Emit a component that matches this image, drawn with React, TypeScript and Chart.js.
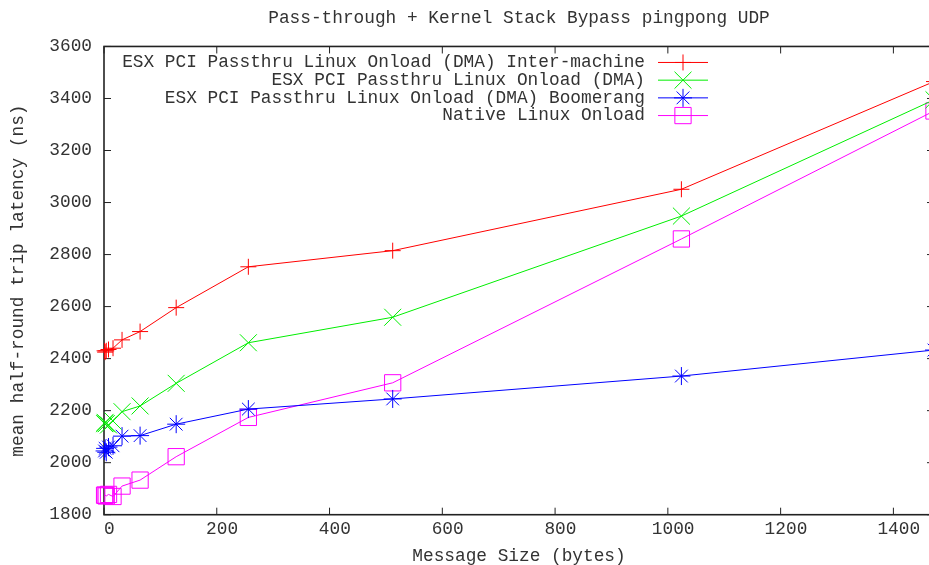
import React, { useEffect, useRef } from 'react';
import { Chart, registerables } from 'chart.js';

Chart.register(...registerables);

// ---- data ----
const sizes = [1, 2, 4, 8, 16, 32, 64, 128, 256, 512, 1024, 1472];
const interMachine = [2430, 2425, 2430, 2435, 2440, 2472, 2504, 2596, 2753, 2815, 3051, 3465];
const dmaLocal = [2150, 2155, 2150, 2145, 2160, 2196, 2218, 2305, 2461, 2559, 2948, 3395];
const boomerang = [2045, 2055, 2040, 2060, 2065, 2102, 2104, 2148, 2206, 2245, 2333, 2433];
const nativeOnload = [1875, 1875, 1872, 1878, 1870, 1910, 1933, 2023, 2174, 2307, 2860, 3352];

const seriesLabels = [
  'ESX PCI Passthru Linux Onload (DMA) Inter-machine',
  'ESX PCI Passthru Linux Onload (DMA)',
  'ESX PCI Passthru Linux Onload (DMA) Boomerang',
  'Native Linux Onload',
];
const seriesColors = ['#ff0000', '#00ee00', '#0000ff', '#ff00ff'];
const seriesStyles = ['cross', 'crossRot', 'star', 'rect'];
const seriesRadius = [8, 12, 9, 11.5];

const chartTitle = 'Pass-through + Kernel Stack Bypass pingpong UDP';
const xTitle = 'Message Size (bytes)';
const yTitle = 'mean half-round trip latency (ns)';
const xMin = 0, xMax = 1472, xStep = 200;
const yMin = 1800, yMax = 3600, yStep = 200;

const FONT = '"Liberation Mono", "Courier New", monospace';
const FS = 17.8;
const TXT = '#333333';

function marker(ctx: CanvasRenderingContext2D, style: string, x: number, y: number, r: number) {
  ctx.beginPath();
  if (style === 'cross') {
    ctx.moveTo(x - r, y); ctx.lineTo(x + r, y);
    ctx.moveTo(x, y - r); ctx.lineTo(x, y + r);
  } else if (style === 'crossRot') {
    const d = r * Math.SQRT1_2;
    ctx.moveTo(x - d, y - d); ctx.lineTo(x + d, y + d);
    ctx.moveTo(x - d, y + d); ctx.lineTo(x + d, y - d);
  } else if (style === 'star') {
    const d = r * Math.SQRT1_2;
    ctx.moveTo(x - r, y); ctx.lineTo(x + r, y);
    ctx.moveTo(x, y - r); ctx.lineTo(x, y + r);
    ctx.moveTo(x - d, y - d); ctx.lineTo(x + d, y + d);
    ctx.moveTo(x - d, y + d); ctx.lineTo(x + d, y - d);
  } else {
    const d = r * Math.SQRT1_2;
    ctx.rect(x - d, y - d, 2 * d, 2 * d);
  }
  ctx.stroke();
}

const framePlugin = {
  id: 'gpFrame',
  beforeDatasetsDraw(chart: any) {
    const { ctx, chartArea: a, scales } = chart;
    const xs = scales.x, ys = scales.y;
    const TL = 7;
    ctx.save();
    ctx.strokeStyle = '#222222';
    ctx.lineWidth = 1;
    ctx.beginPath();
    xs.ticks.forEach((t: any) => {
      const px = xs.getPixelForValue(t.value);
      ctx.moveTo(px, a.bottom); ctx.lineTo(px, a.bottom - TL);
      ctx.moveTo(px, a.top); ctx.lineTo(px, a.top + TL);
    });
    ys.ticks.forEach((t: any) => {
      const py = ys.getPixelForValue(t.value);
      ctx.moveTo(a.left, py); ctx.lineTo(a.left + TL, py);
      ctx.moveTo(a.right, py); ctx.lineTo(a.right - TL, py);
    });
    ctx.stroke();
    ctx.lineWidth = 1.6;
    ctx.strokeRect(a.left, a.top, a.right - a.left, a.bottom - a.top);
    ctx.restore();
  },
};

const keyPlugin = {
  id: 'gpKey',
  afterDatasetsDraw(chart: any) {
    const { ctx, chartArea: a } = chart;
    const textRight = a.left + 541;
    const lineX0 = a.left + 554;
    const lineX1 = a.left + 604;
    const top = a.top + 16;
    const step = 17.7;
    ctx.save();
    chart.data.datasets.forEach((ds: any, i: number) => {
      const y = top + i * step;
      ctx.font = `${FS}px ${FONT}`;
      ctx.fillStyle = TXT;
      ctx.textAlign = 'right';
      ctx.textBaseline = 'middle';
      ctx.fillText(ds.label, textRight, y);
      ctx.strokeStyle = ds.borderColor;
      ctx.lineWidth = 1;
      ctx.beginPath();
      ctx.moveTo(lineX0, y); ctx.lineTo(lineX1, y);
      ctx.stroke();
      marker(ctx, ds.pointStyle, (lineX0 + lineX1) / 2, y, ds.pointRadius);
    });
    ctx.restore();
  },
};

export default function App() {
  const ref = useRef<HTMLCanvasElement>(null);
  useEffect(() => {
    if (!ref.current) return;
    const series = [interMachine, dmaLocal, boomerang, nativeOnload];
    const datasets = series.map((vals, i) => ({
      label: seriesLabels[i],
      data: sizes.map((s, j) => ({ x: s, y: vals[j] })),
      borderColor: seriesColors[i],
      backgroundColor: 'transparent',
      borderWidth: 1,
      tension: 0,
      pointStyle: seriesStyles[i],
      pointRadius: seriesRadius[i],
      pointHoverRadius: seriesRadius[i],
      pointBorderColor: seriesColors[i],
      pointBackgroundColor: 'transparent',
      pointBorderWidth: 1,
      clip: false,
    }));
    const chart = new Chart(ref.current, {
      type: 'line',
      data: { datasets },
      plugins: [framePlugin, keyPlugin],
      options: {
        animation: false,
        responsive: false,
        devicePixelRatio: 1,
        layout: { autoPadding: false, padding: { left: 0, right: 6, top: 0, bottom: 0 } },
        plugins: {
          legend: { display: false },
          tooltip: { enabled: false },
          title: {
            display: true,
            text: chartTitle,
            fullSize: false,
            color: TXT,
            font: { family: FONT, size: FS, weight: 'normal', lineHeight: 1.2 },
            padding: { top: 7.3, bottom: 17.8 },
          },
        },
        scales: {
          x: {
            type: 'linear',
            min: xMin,
            max: xMax,
            grid: { display: false, drawTicks: false },
            border: { display: false },
            ticks: {
              stepSize: xStep,
              includeBounds: false,
              color: TXT,
              padding: 4,
              maxRotation: 0,
              font: { family: FONT, size: FS },
              callback: (v: any) => ' ' + String(v),
            },
            title: {
              display: true,
              text: xTitle,
              color: TXT,
              font: { family: FONT, size: FS, lineHeight: 1 },
              padding: { top: 0, bottom: 0 },
            },
            afterFit(scale: any) { scale.height = 50.3; },
          },
          y: {
            type: 'linear',
            min: yMin,
            max: yMax,
            grid: { display: false, drawTicks: false },
            border: { display: false },
            ticks: {
              stepSize: yStep,
              includeBounds: false,
              color: TXT,
              padding: 12,
              font: { family: FONT, size: FS },
              callback: (v: any) => String(v),
            },
            title: {
              display: true,
              text: yTitle,
              color: TXT,
              font: { family: FONT, size: FS, lineHeight: 1.2 },
              padding: { top: 8, bottom: 0 },
            },
            afterFit(scale: any) { scale.width = 104; },
          },
        },
      } as any,
    });
    return () => chart.destroy();
  }, []);
  return (
    <div style={{ position: 'fixed', left: 0, top: 0, width: 929, height: 565, overflow: 'hidden', background: '#fff' }}>
      <canvas ref={ref} width={940} height={565} style={{ display: 'block', width: 940, height: 565 }} />
    </div>
  );
}
